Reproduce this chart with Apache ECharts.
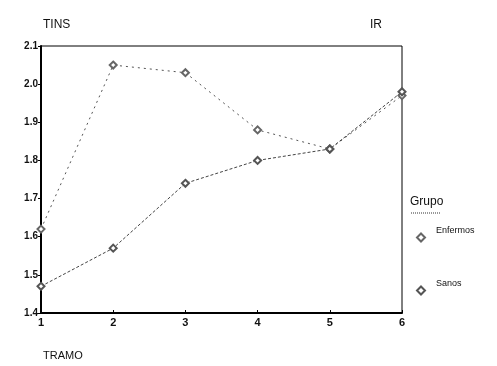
<!DOCTYPE html>
<html><head><meta charset="utf-8">
<script src="https://cdn.jsdelivr.net/npm/echarts@6/dist/echarts.min.js"></script>
<style>html,body{margin:0;padding:0;background:#fff}#c{width:497px;height:366px}</style>
</head><body><div id="c"></div>
<script>
const tramo = [1, 2, 3, 4, 5, 6];
const enfermos = [1.62, 2.05, 2.03, 1.88, 1.83, 1.97];
const sanos = [1.47, 1.57, 1.74, 1.80, 1.83, 1.98];
const yTicks = [1.4, 1.5, 1.6, 1.7, 1.8, 1.9, 2.0, 2.1];
const xTicks = [1, 2, 3, 4, 5, 6];
const seriesNames = ['Enfermos', 'Sanos'];

const font = '"Liberation Sans", Arial, sans-serif';
const chart = echarts.init(document.getElementById('c'));
chart.setOption({
  animation: false,
  backgroundColor: '#fff',
  textStyle: { fontFamily: font },
  grid: { left: 41, right: 95, top: 46, bottom: 53, show: true, borderColor: '#000', borderWidth: 1, backgroundColor: 'transparent' },
  title: [
    { text: 'TINS', left: 38, top: 14, textStyle: { fontSize: 12, fontWeight: 'normal', color: '#111', fontFamily: font } },
    { text: 'IR', left: 365, top: 14, textStyle: { fontSize: 12, fontWeight: 'normal', color: '#111', fontFamily: font } },
    { text: 'TRAMO', left: 38, top: 345, textStyle: { fontSize: 11, fontWeight: 'normal', color: '#111', fontFamily: font } },
    { text: 'Grupo', left: 405, top: 191, textStyle: { fontSize: 12, fontWeight: 'normal', color: '#111', fontFamily: font } }
  ],
  graphic: [
    { type: 'line', shape: { x1: 411, y1: 213, x2: 440, y2: 213 }, style: { stroke: '#333', lineWidth: 1, lineDash: [1, 1] } }
  ],
  legend: {
    orient: 'vertical', left: 411, top: 221, itemGap: 30,
    itemWidth: 8, itemHeight: 8,
    data: seriesNames.map(n => ({ name: n, icon: 'emptyDiamond' })),
    formatter: n => '{a|' + n + '}\n{b| }',
    textStyle: { fontSize: 9, color: '#111', fontFamily: font,
      rich: { a: { fontSize: 9, color: '#111', lineHeight: 14, padding: [0, 0, 0, 6] }, b: { fontSize: 9, lineHeight: 14 } } }
  },
  xAxis: {
    type: 'value', min: 1, max: 6, interval: 1,
    axisLine: { show: true, onZero: false, lineStyle: { color: '#000', width: 2 } },
    axisTick: { show: true, inside: true, length: 3, lineStyle: { color: '#000' } },
    axisLabel: { color: '#111', fontSize: 11, fontWeight: 'bold', margin: 4, formatter: v => xTicks.includes(v) ? String(v) : '' },
    splitLine: { show: false }
  },
  yAxis: {
    type: 'value', min: 1.4, max: 2.1, interval: 0.1,
    axisLine: { show: true, onZero: false, lineStyle: { color: '#000', width: 2 } },
    axisTick: { show: true, length: 3, lineStyle: { color: '#000' } },
    axisLabel: { color: '#111', fontSize: 10, fontWeight: 'bold', margin: 3, formatter: v => {
      const t = yTicks.find(k => Math.abs(k - v) < 1e-6); return t === undefined ? '' : t.toFixed(1); } },
    splitLine: { show: false }
  },
  series: [
    { name: seriesNames[0], type: 'line', data: tramo.map((x, i) => [x, enfermos[i]]),
      symbol: 'emptyDiamond', symbolSize: 7, color: '#666',
      lineStyle: { color: '#555', width: 1, type: [2, 4] }, itemStyle: { color: '#666', borderColor: '#666', borderWidth: 1 } },
    { name: seriesNames[1], type: 'line', data: tramo.map((x, i) => [x, sanos[i]]),
      symbol: 'emptyDiamond', symbolSize: 7, color: '#555',
      lineStyle: { color: '#444', width: 1, type: [3, 2] }, itemStyle: { color: '#555', borderColor: '#555', borderWidth: 1 } }
  ]
});
</script></body></html>
